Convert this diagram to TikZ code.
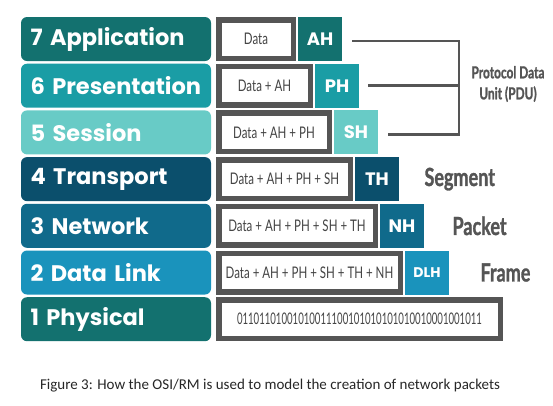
\documentclass[tikz,border=0pt]{standalone}
\usepackage{fontspec}
\setmainfont{Carlito}
\newfontfamily\layerfont{Poppins}[BoldFont={Poppins Bold}]
\newfontfamily\condfont{Lato}[FakeStretch=0.72, BoldFont={Lato Bold}, BoldFeatures={FakeBold=1.2}]
\newfontfamily\bitfont{Lato}[FakeStretch=0.6]
\usetikzlibrary{positioning}
\definecolor{appl}{HTML}{13716F}
\definecolor{pres}{HTML}{1A9DA5}
\definecolor{sess}{HTML}{68CBC6}
\definecolor{trans}{HTML}{0B4F6C}
\definecolor{netw}{HTML}{106A8B}
\definecolor{dlink}{HTML}{1A93BC}
\definecolor{frame}{HTML}{555555}
\definecolor{ink}{HTML}{444444}
\tikzset{
  layer/.style={rounded corners=6pt, minimum width=190pt, minimum height=44pt,
    text width=176pt, inner xsep=7pt, inner ysep=0pt, outer sep=0pt, align=left,
    text=white, font=\layerfont\bfseries\fontsize{22.5}{24}\selectfont},
  pdubox/.style={draw=frame, line width=5.5pt, fill=white, minimum height=38.5pt,
    inner sep=0pt, text=ink, font=\condfont\fontsize{16}{18}\selectfont},
  hdr/.style={minimum width=44pt, minimum height=44pt, inner sep=0pt, outer sep=0pt,
    text=white, font=\layerfont\bfseries\fontsize{18}{20}\selectfont},
  brk/.style={draw=frame, line width=2.6pt},
  pduname/.style={text=frame, font=\condfont\bfseries\fontsize{25}{28}\selectfont, anchor=west}
}
\begin{document}
\begin{tikzpicture}[x=1pt, y=-1pt]
  \useasboundingbox (0,0) rectangle (553,405);
  % layers
  \node[layer, fill=appl] (L7) at (116,39) {\hspace*{2.5pt}7 Application};
  \node[layer, fill=pres, below=2.7pt of L7] (L6) {\hspace*{2.5pt}6 Presentation};
  \node[layer, fill=sess, below=2.7pt of L6] (L5) {\hspace*{2.5pt}5 Session};
  \node[layer, fill=trans, below=2.7pt of L5] (L4) {\hspace*{2.5pt}4 Transport};
  \node[layer, fill=netw, below=2.7pt of L4] (L3) {\hspace*{2.5pt}3 Network};
  \node[layer, fill=dlink, below=2.7pt of L3] (L2) {\hspace*{2.5pt}2 Data Link};
  \node[layer, fill=appl, below=2.7pt of L2] (L1) {\hspace*{2.5pt}1 Physical};
  % encapsulated data
  \node[pdubox, minimum width=74.5pt, right=5pt of L7] (D7) {Data};
  \node[pdubox, minimum width=91.5pt, right=5pt of L6] (D6) {Data + AH};
  \node[pdubox, minimum width=110.5pt, right=5pt of L5] (D5) {Data + AH + PH};
  \node[pdubox, minimum width=131.5pt, right=5pt of L4] (D4) {Data + AH + PH + SH};
  \node[pdubox, minimum width=156.5pt, right=5pt of L3] (D3) {Data + AH + PH + SH + TH};
  \node[pdubox, minimum width=181.5pt, right=5pt of L2] (D2) {Data + AH + PH + SH + TH + NH};
  \node[pdubox, minimum width=281.5pt, right=5pt of L1, font=\bitfont\fontsize{16}{18}\selectfont] (D1) {01101101001010011100101010101010010001001011};
  % headers
  \node[hdr, fill=appl, right=2pt of D7] (AH) {AH};
  \node[hdr, fill=pres, right=2pt of D6] (PH) {PH};
  \node[hdr, fill=sess, right=2pt of D5] (SH) {SH};
  \node[hdr, fill=trans, right=2pt of D4] (TH) {TH};
  \node[hdr, fill=netw, right=2pt of D3] (NH) {NH};
  \node[hdr, fill=dlink, right=2pt of D2, font=\layerfont\bfseries\fontsize{14}{16}\selectfont] (DLH) {DLH};
  % PDU bracket
  \coordinate (bar) at (459,37);
  \draw[brk] ([xshift=10pt,yshift=-2pt]AH.east) -- ([yshift=-2pt]AH.east -| bar) -- ([yshift=-2pt]SH.east -| bar) -- ([xshift=10pt,yshift=-2pt]SH.east);
  \draw[brk] ([xshift=9pt]PH.east) -- (PH.east -| bar);
  \node[text=frame, align=center, font=\condfont\bfseries\fontsize{16.5}{21}\selectfont] (pdu) at (508,84) {Protocol Data\\Unit (PDU)};
  % names
  \node[pduname, right=22pt of TH] (seg) {Segment};
  \node[pduname, right=25pt of NH] (pkt) {Packet};
  \node[pduname, right=28pt of DLH] (frm) {Frame};
  % caption
  \node[font=\fontsize{15}{17}\selectfont, text=black!85] (cap) at (270,386) {Figure 3: How the OSI/RM is used to model the creation of network packets};
\end{tikzpicture}
\end{document}
